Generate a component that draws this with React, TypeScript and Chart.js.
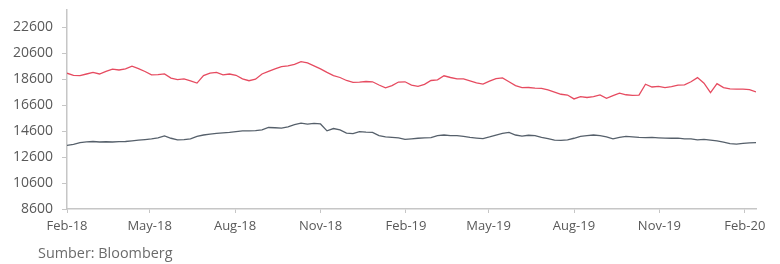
import React, { useEffect, useRef } from "react";
import { Chart, registerables } from "chart.js";

Chart.register(...registerables);

// Weekly observations starting 2018-02-01 (one value every 7 days)
const startDate = "2018-02-01";
const stepDays = 7;
const endDay = 742;

const redSeries = [
  19060, 18900, 18880, 19000, 19120, 19000, 19200, 19380, 19310, 19390,
  19600, 19420, 19190, 18930, 18950, 19010, 18680, 18560, 18620, 18470,
  18300, 18880, 19060, 19120, 18930, 19000, 18900, 18620, 18480, 18600,
  19000, 19200, 19390, 19560, 19620, 19740, 19950, 19850, 19620, 19390,
  19120, 18880, 18730, 18500, 18360, 18380, 18420, 18400, 18150, 17930,
  18100, 18380, 18400, 18150, 18050, 18200, 18500, 18550, 18860, 18730,
  18620, 18620, 18470, 18320, 18220, 18450, 18650, 18700, 18400, 18100,
  17950, 17960, 17910, 17900, 17770, 17600, 17440, 17380, 17080, 17250,
  17190, 17260, 17390, 17120, 17330, 17520, 17400, 17350, 17380, 18210,
  18000, 18050, 17950, 18030, 18140, 18160, 18400, 18720, 18290, 17560,
  18260, 17950, 17850, 17830, 17830, 17800, 17620,
];

const graySeries = [
  13500, 13580, 13720, 13770, 13800, 13760, 13780, 13760, 13790, 13800,
  13850, 13900, 13950, 14000, 14080, 14230, 14050, 13930, 13950, 14000,
  14190, 14300, 14370, 14420, 14460, 14500, 14560, 14620, 14620, 14640,
  14700, 14880, 14860, 14830, 14930, 15100, 15210, 15140, 15200, 15150,
  14620, 14800, 14690, 14450, 14400, 14560, 14520, 14500, 14250, 14150,
  14110, 14080, 13960, 14000, 14050, 14080, 14100, 14250, 14300, 14260,
  14250, 14200, 14110, 14060, 14020, 14150, 14300, 14420, 14500, 14300,
  14220, 14280, 14250, 14110, 14020, 13900, 13880, 13930, 14050, 14190,
  14250, 14300, 14250, 14150, 14000, 14120, 14190, 14150, 14110, 14100,
  14110, 14080, 14060, 14050, 14060, 14000, 14000, 13930, 13960, 13900,
  13850, 13750, 13630, 13600, 13650, 13700, 13720,
];

const xTickLabels = [
  "Feb-18", "May-18", "Aug-18", "Nov-18", "Feb-19",
  "May-19", "Aug-19", "Nov-19", "Feb-20",
];

const yTickValues = [8600, 10600, 12600, 14600, 16600, 18600, 20600, 22600];
const yMin = 8600;
const yMax = 23930;

const sourceText = "Sumber: Bloomberg";

const MONTHS = ["Jan","Feb","Mar","Apr","May","Jun","Jul","Aug","Sep","Oct","Nov","Dec"];
const DAY = 86400000;
const startMs = Date.parse(startDate + "T00:00:00Z");

function labelToDay(label: string): number {
  const [m, y] = label.split("-");
  const ms = Date.UTC(2000 + parseInt(y, 10), MONTHS.indexOf(m), 1);
  return Math.round((ms - startMs) / DAY);
}

const tickDays = xTickLabels.map(labelToDay);

export default function App() {
  const ref = useRef<HTMLCanvasElement | null>(null);

  useEffect(() => {
    if (!ref.current) return;
    const family = "'Open Sans', 'Noto Sans', sans-serif";
    const chart = new Chart(ref.current, {
      type: "line",
      data: {
        datasets: [
          {
            label: "Red",
            data: redSeries.map((v, i) => ({ x: i * stepDays, y: v })),
            borderColor: "#e64b60",
            borderWidth: 1.3,
            pointRadius: 0,
            tension: 0,
          },
          {
            label: "Gray",
            data: graySeries.map((v, i) => ({ x: i * stepDays, y: v })),
            borderColor: "#56606b",
            borderWidth: 1.3,
            pointRadius: 0,
            tension: 0,
          },
        ],
      },
      options: {
        animation: false,
        responsive: false,
        maintainAspectRatio: false,
        layout: { padding: { left: 0, right: 24, top: 10, bottom: 0 } },
        plugins: { legend: { display: false }, tooltip: { enabled: false } },
        scales: {
          x: {
            type: "linear",
            min: 0,
            max: endDay,
            afterBuildTicks: (scale: any) => {
              scale.ticks = tickDays.map((d) => ({ value: d }));
            },
            afterFit: (scale: any) => {
              scale.height = 55;
              scale.paddingLeft = 0;
              scale.paddingRight = 0;
            },
            grid: {
              drawOnChartArea: false,
              drawTicks: true,
              tickLength: 4,
              color: "#c6c6c6",
            },
            border: { display: true, color: "#c6c6c6", width: 1.5 },
            ticks: {
              autoSkip: false,
              maxRotation: 0,
              padding: 5,
              color: "#595959",
              font: { family, size: 13 },
              callback: (v: any) => {
                const idx = tickDays.indexOf(Number(v));
                return idx >= 0 ? xTickLabels[idx] : "";
              },
            },
          },
          y: {
            min: yMin,
            max: yMax,
            afterBuildTicks: (scale: any) => {
              scale.ticks = yTickValues.map((v) => ({ value: v }));
            },
            afterFit: (scale: any) => {
              scale.width = 67;
              scale.paddingTop = 0;
              scale.paddingBottom = 0;
            },
            grid: {
              drawOnChartArea: false,
              drawTicks: true,
              tickLength: 5,
              color: "#c6c6c6",
            },
            border: { display: true, color: "#c6c6c6", width: 1.5 },
            ticks: {
              padding: 9,
              color: "#595959",
              font: { family, size: 14 },
              callback: (v: any) => String(v),
            },
          },
        },
      },
    });
    return () => chart.destroy();
  }, []);

  return (
    <div style={{ position: "fixed", left: 0, top: 0, width: 780, height: 264, background: "#fff" }}>
      <canvas ref={ref} width={780} height={264} style={{ display: "block", width: 780, height: 264 }} />
      <div
        style={{
          position: "absolute",
          left: 38,
          top: 244,
          fontFamily: "'Open Sans', 'Noto Sans', sans-serif",
          fontSize: 14.4,
          color: "#6b6b6b",
          whiteSpace: "nowrap",
          lineHeight: "18px",
        }}
      >
        {sourceText}
      </div>
    </div>
  );
}
